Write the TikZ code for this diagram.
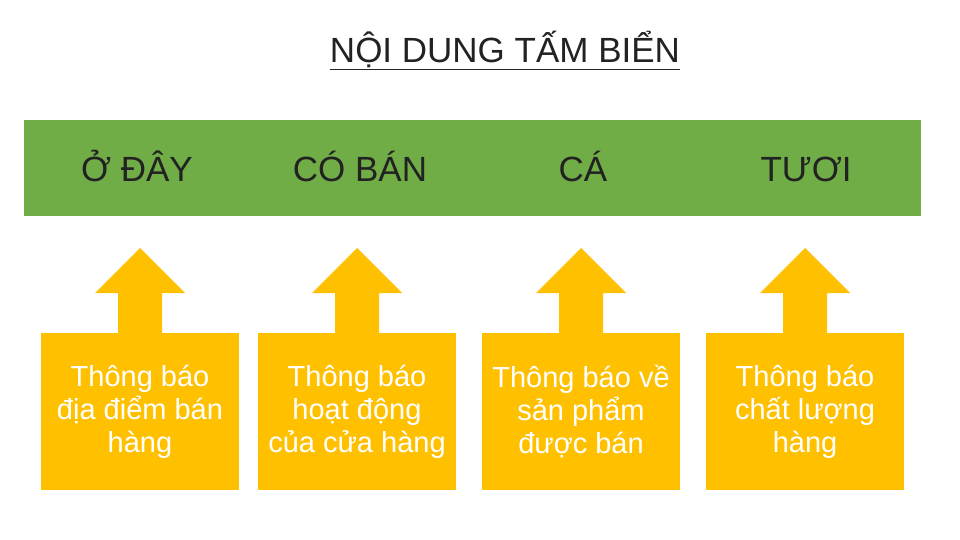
\documentclass[tikz,border=0pt]{standalone}
\usepackage{fontspec}
\setmainfont{Liberation Sans}
\definecolor{grn}{HTML}{70AD47}
\definecolor{yel}{HTML}{FFC000}
\definecolor{txt}{HTML}{222222}
\begin{document}
\begin{tikzpicture}[x=1pt,y=-1pt,
  hdr/.style={text=txt,font=\fontsize{35}{40}\selectfont},
  bx/.style={fill=yel,draw=none},
  btxt/.style={text=white,align=center,font=\fontsize{29}{33}\selectfont}]
\useasboundingbox (0,0) rectangle (960,540);
\node[text=txt,font=\fontsize{35}{40}\selectfont] (title) at (505,50) {\underline{NỘI DUNG TẤM BIỂN}};
\fill[grn] (24,120) rectangle (921,216);
\foreach \c/\x/\t/\b [count=\i] in {140/137/Ở ĐÂY/{Thông báo\\địa điểm bán\\hàng},
  357/360/CÓ BÁN/{Thông báo\\hoạt động\\của cửa hàng},
  581/583/CÁ/{Thông báo về\\sản phẩm\\được bán},
  805/806/TƯƠI/{Thông báo\\chất lượng\\hàng}}{
  \node[hdr,anchor=base] (h\i) at (\x,182) {\t};
  \fill[yel] (\c-22,334) -- (\c-22,293) -- (\c-45,293) -- (\c,248) -- (\c+45,293) -- (\c+22,293) -- (\c+22,334) -- cycle;
  \fill[yel] (\c-99,333) rectangle (\c+99,490);
  \node[btxt] (b\i) at (\c,412) {\b};
}
\end{tikzpicture}
\end{document}
